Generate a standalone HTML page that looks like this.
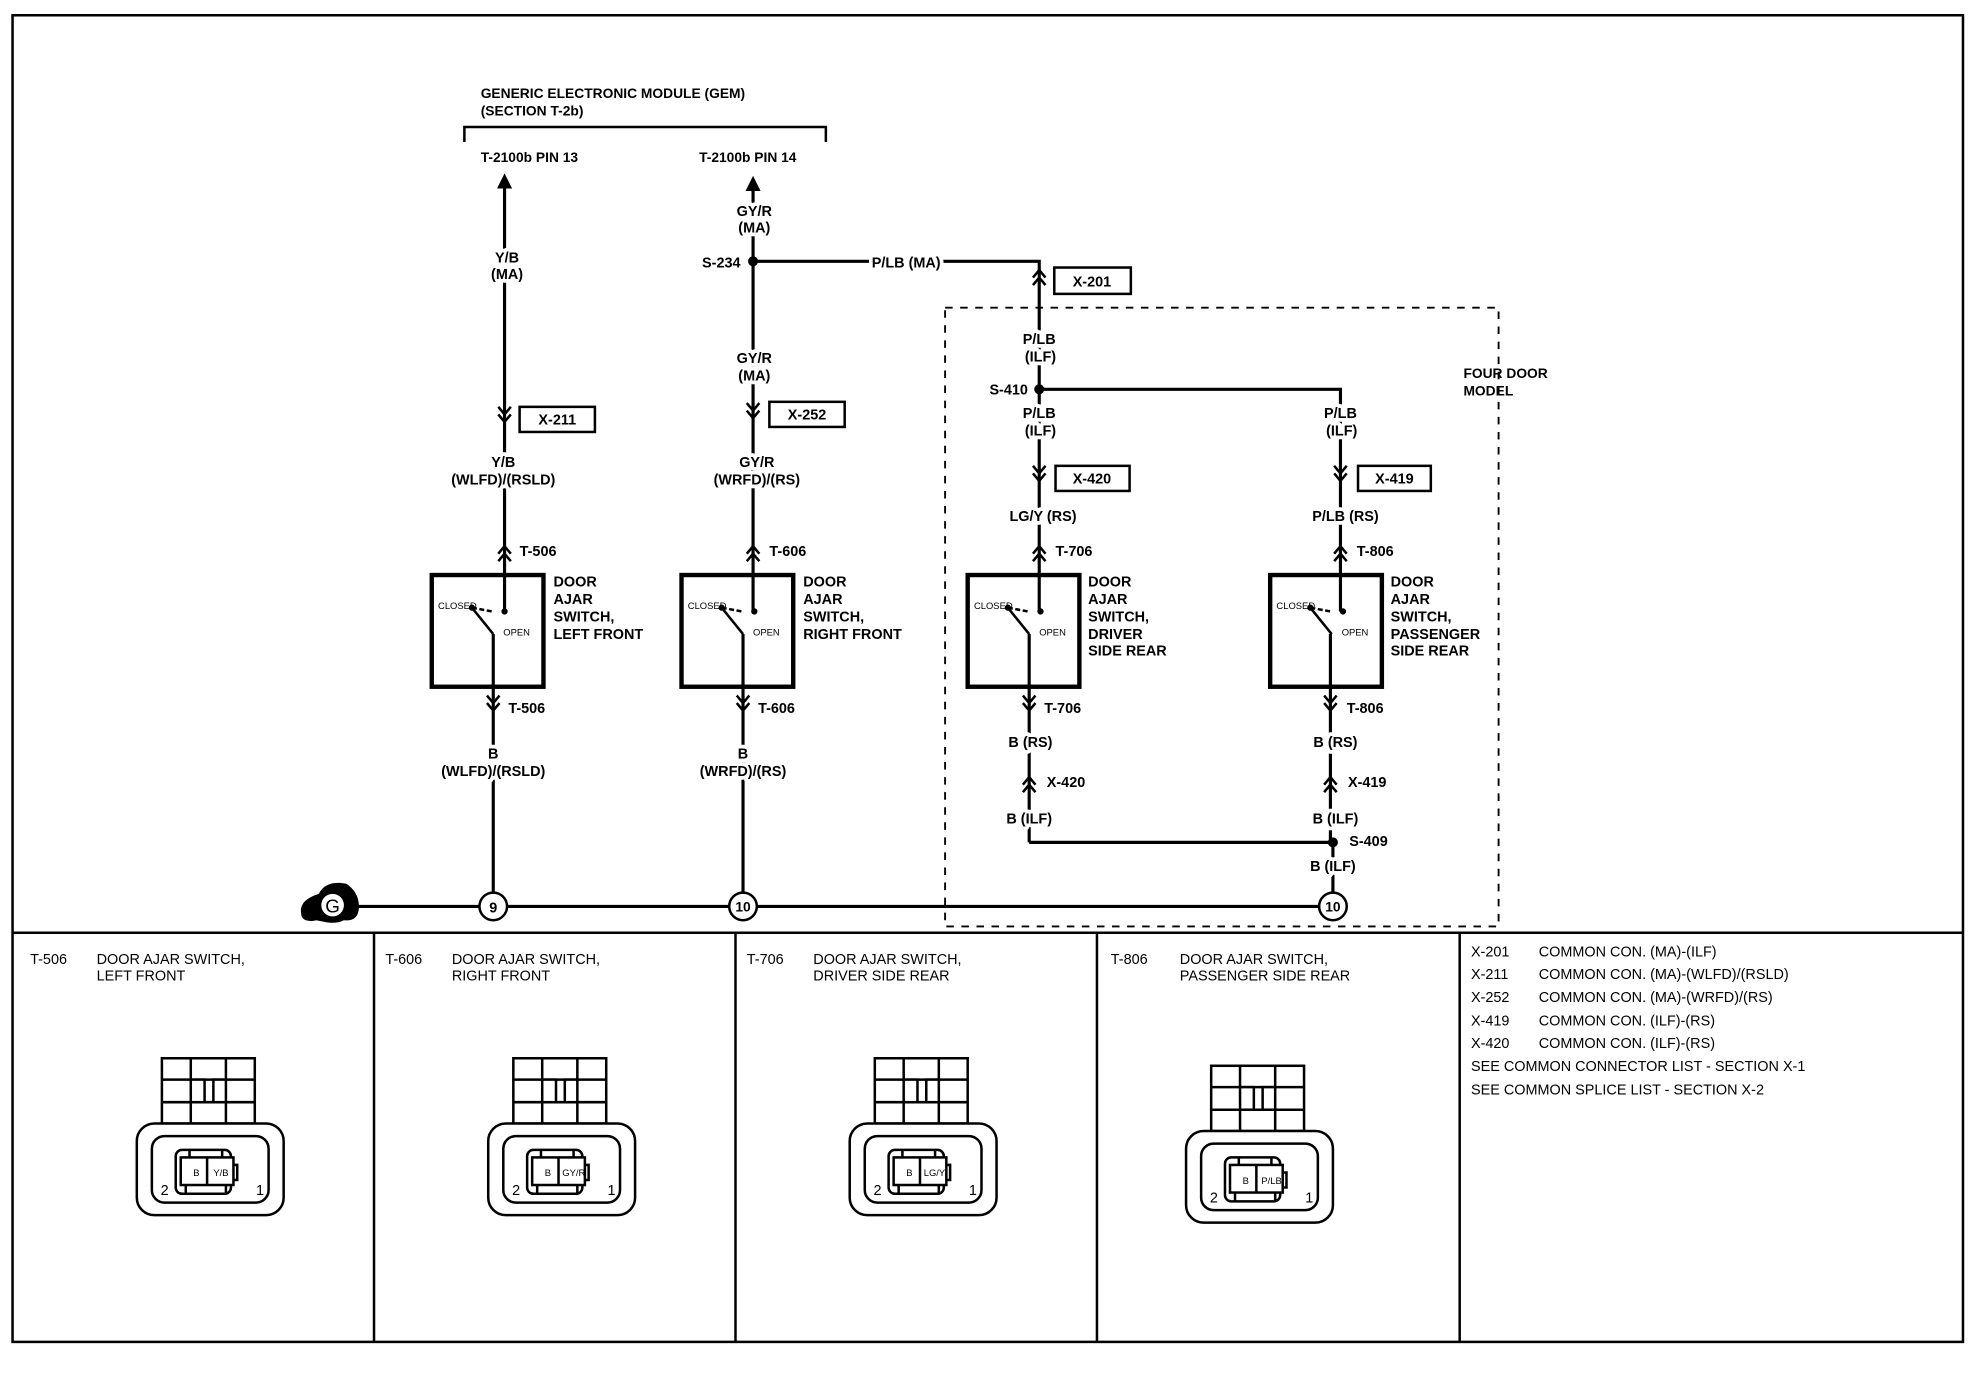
<!DOCTYPE html>
<html><head><meta charset="utf-8"><style>
html,body{margin:0;padding:0;background:#fff}
svg{display:block}
text{font-family:"Liberation Sans",Arial,sans-serif;font-weight:bold;fill:#000;font-size:11.5px}
.l{font-size:11.5px;paint-order:stroke;stroke:#fff;stroke-width:6px;stroke-linejoin:round}
.t{font-size:11.5px;font-weight:normal}
.s{font-size:7.5px;font-weight:normal}
.c{text-anchor:middle}
</style></head><body>
<svg width="1968" height="1376" viewBox="0 0 1568 1096" xmlns="http://www.w3.org/2000/svg">
<defs>
<g id="cu" fill="none" stroke="#000" stroke-width="2"><path d="M-5,3 L0,-3 L5,3 M-5,9 L0,3 L5,9"/></g>
<g id="cd" fill="none" stroke="#000" stroke-width="2"><path d="M-5,-3 L0,3 L5,-3 M-5,-9 L0,-3 L5,-9"/></g>
<g id="sw">
<rect x="0" y="0" width="89" height="89" fill="none" stroke="#000" stroke-width="3.5"/>
<text x="5" y="27" class="s" style="font-size:7.5px">CLOSED</text>
<text x="57" y="48" class="s" style="font-size:7.5px">OPEN</text>
<path d="M32,26 L48,29" stroke="#000" stroke-width="2" stroke-dasharray="4,2"/>
<circle cx="32" cy="26" r="2.5"/>
<circle cx="58" cy="29" r="2.5"/>
<path d="M32,26 L49,47" stroke="#000" stroke-width="2"/>
</g>
<g id="cn" fill="none" stroke="#000" stroke-width="2">
<rect x="-37" y="0" width="74" height="52"/>
<path d="M-37,17 H37 M-37,35 H37 M-14,0 V17 M14,0 V17 M-14,35 V52 M14,35 V52"/>
<rect x="-14" y="17" width="11" height="18" fill="#fff"/>
<rect x="4" y="17" width="10" height="18" fill="#fff"/>
<rect x="-57" y="52" width="117" height="73" rx="14" fill="#fff"/>
<rect x="-45" y="62" width="93" height="53" rx="10"/>
<rect x="-26" y="73" width="44" height="35" rx="5"/>
<path d="M18,85 H23 V97 H18"/>
<rect x="-22" y="79" width="42" height="22" fill="#fff"/>
<path d="M-1,79 V101 M-15,73 V79 M11,73 V79 M-18,101 V108 M14,101 V108"/>
</g>
</defs>
<rect width="1568" height="1096" fill="#fff"/>
<rect x="10" y="12" width="1554" height="1057" fill="none" stroke="#000" stroke-width="2"/>
<line x1="10" y1="743" x2="1564" y2="743" stroke="#000" stroke-width="2"/>
<g stroke="#000" stroke-width="2"><line x1="298" y1="743" x2="298" y2="1069"/><line x1="586" y1="743" x2="586" y2="1069"/><line x1="874" y1="743" x2="874" y2="1069"/><line x1="1163" y1="743" x2="1163" y2="1069"/></g>

<text x="383" y="78" style="font-size:11px">GENERIC ELECTRONIC MODULE (GEM)</text>
<text x="383" y="92" style="font-size:11px">(SECTION T-2b)</text>
<path d="M370,113 V101 H658 V113" fill="none" stroke="#000" stroke-width="2"/>
<text x="383" y="129" style="font-size:11px">T-2100b PIN 13</text>
<text x="557" y="129" style="font-size:11px">T-2100b PIN 14</text>

<rect x="753" y="245" width="441" height="493" fill="none" stroke="#000" stroke-width="1.5" stroke-dasharray="6,6"/>
<text x="1166" y="301" style="font-size:11px">FOUR DOOR</text>
<text x="1166" y="315" style="font-size:11px">MODEL</text>

<g stroke="#000" stroke-width="2.5" fill="none">
<line x1="402" y1="146" x2="402" y2="487"/>
<line x1="393" y1="505" x2="393" y2="722"/>
<line x1="600" y1="146" x2="600" y2="487"/>
<line x1="592" y1="505" x2="592" y2="722"/>
<path d="M600,208 H828 V487"/>
<path d="M828,310 H1068 V487"/>
<line x1="820" y1="505" x2="820" y2="671"/>
<line x1="1060" y1="505" x2="1060" y2="671"/>
<path d="M820,671 H1062 V722"/>
<line x1="280" y1="722" x2="1062" y2="722"/>
</g>
<path d="M396,150 L402,138 L408,150 Z"/>
<path d="M594,152 L600,140 L606,152 Z"/>
<circle cx="600" cy="208" r="4"/>
<circle cx="828" cy="310" r="4"/>
<circle cx="1062" cy="671" r="4"/>

<text x="404" y="209" class="l c">Y/B</text>
<text x="404" y="222" class="l c">(MA)</text>
<use href="#cd" x="402" y="333"/>
<rect x="414" y="324" width="60" height="20" fill="#fff" stroke="#000" stroke-width="2"/>
<text x="444" y="338" class="c">X-211</text>
<text x="401" y="372" class="l c">Y/B</text>
<text x="401" y="386" class="l c">(WLFD)/(RSLD)</text>
<use href="#cu" x="402" y="438"/>
<text x="414" y="443">T-506</text>
<g transform="translate(344,458)"><use href="#sw"/></g>
<text x="441" y="467">DOOR</text><text x="441" y="481">AJAR</text><text x="441" y="495">SWITCH,</text><text x="441" y="509">LEFT FRONT</text>
<use href="#cd" x="393" y="563"/>
<text x="405" y="568">T-506</text>
<text x="393" y="604" class="l c">B</text>
<text x="393" y="618" class="l c">(WLFD)/(RSLD)</text>

<text x="601" y="172" class="l c">GY/R</text>
<text x="601" y="185" class="l c">(MA)</text>
<text x="590" y="213" style="text-anchor:end">S-234</text>
<text x="722" y="213" class="l c">P/LB  (MA)</text>
<text x="601" y="289" class="l c">GY/R</text>
<text x="601" y="303" class="l c">(MA)</text>
<use href="#cd" x="600" y="330"/>
<rect x="613" y="320" width="60" height="20" fill="#fff" stroke="#000" stroke-width="2"/>
<text x="643" y="334" class="c">X-252</text>
<text x="603" y="372" class="l c">GY/R</text>
<text x="603" y="386" class="l c">(WRFD)/(RS)</text>
<use href="#cu" x="600" y="438"/>
<text x="613" y="443">T-606</text>
<g transform="translate(543,458)"><use href="#sw"/></g>
<text x="640" y="467">DOOR</text><text x="640" y="481">AJAR</text><text x="640" y="495">SWITCH,</text><text x="640" y="509">RIGHT FRONT</text>
<use href="#cd" x="592" y="563"/>
<text x="604" y="568">T-606</text>
<text x="592" y="604" class="l c">B</text>
<text x="592" y="618" class="l c">(WRFD)/(RS)</text>

<use href="#cu" x="828" y="218"/>
<rect x="840" y="213" width="61" height="21" fill="#fff" stroke="#000" stroke-width="2"/>
<text x="870" y="228" class="c">X-201</text>
<text x="828" y="274" class="l c">P/LB</text>
<text x="829" y="288" class="l c">(ILF)</text>
<text x="819" y="314" style="text-anchor:end">S-410</text>
<text x="828" y="333" class="l c">P/LB</text>
<text x="829" y="347" class="l c">(ILF)</text>
<use href="#cd" x="828" y="380"/>
<rect x="841" y="371" width="59" height="20" fill="#fff" stroke="#000" stroke-width="2"/>
<text x="870" y="385" class="c">X-420</text>
<text x="831" y="415" class="l c">LG/Y (RS)</text>
<use href="#cu" x="828" y="438"/>
<text x="841" y="443">T-706</text>
<g transform="translate(771,458)"><use href="#sw"/></g>
<text x="867" y="467">DOOR</text><text x="867" y="481">AJAR</text><text x="867" y="495">SWITCH,</text><text x="867" y="509">DRIVER</text><text x="867" y="522">SIDE REAR</text>
<use href="#cd" x="820" y="563"/>
<text x="832" y="568">T-706</text>
<text x="821" y="595" class="l c">B (RS)</text>
<use href="#cu" x="820" y="622"/>
<text x="834" y="627">X-420</text>
<text x="820" y="656" class="l c">B (ILF)</text>

<text x="1068" y="333" class="l c">P/LB</text>
<text x="1069" y="347" class="l c">(ILF)</text>
<use href="#cd" x="1068" y="380"/>
<rect x="1082" y="371" width="58" height="20" fill="#fff" stroke="#000" stroke-width="2"/>
<text x="1111" y="385" class="c">X-419</text>
<text x="1072" y="415" class="l c">P/LB (RS)</text>
<use href="#cu" x="1068" y="438"/>
<text x="1081" y="443">T-806</text>
<g transform="translate(1012,458)"><use href="#sw"/></g>
<text x="1108" y="467">DOOR</text><text x="1108" y="481">AJAR</text><text x="1108" y="495">SWITCH,</text><text x="1108" y="509">PASSENGER</text><text x="1108" y="522">SIDE REAR</text>
<use href="#cd" x="1060" y="563"/>
<text x="1073" y="568">T-806</text>
<text x="1064" y="595" class="l c">B (RS)</text>
<use href="#cu" x="1060" y="622"/>
<text x="1074" y="627">X-419</text>
<text x="1064" y="656" class="l c">B (ILF)</text>
<text x="1075" y="674">S-409</text>
<text x="1062" y="694" class="l c">B (ILF)</text>

<path d="M240,728 C238,718 248,714 254,712 C258,704 266,702 276,704 C282,708 286,714 286,722 C286,730 282,734 274,733 C266,737 258,734 252,733 C244,735 240,732 240,728 Z"/>
<circle cx="265" cy="721" r="9" fill="#fff"/>
<text x="265" y="727" class="c" style="font-size:15px;font-weight:normal">G</text>
<g fill="#fff" stroke="#000" stroke-width="2"><circle cx="393" cy="722" r="11"/><circle cx="592" cy="722" r="11"/><circle cx="1062" cy="722" r="11"/></g>
<text x="393" y="727" class="c">9</text>
<text x="592" y="726" class="c" style="font-size:11px">10</text>
<text x="1062" y="726" class="c" style="font-size:11px">10</text>

<text x="24" y="768" class="t">T-506</text><text x="77" y="768" class="t">DOOR AJAR SWITCH,</text><text x="77" y="781" class="t">LEFT FRONT</text>
<text x="307" y="768" class="t">T-606</text><text x="360" y="768" class="t">DOOR AJAR SWITCH,</text><text x="360" y="781" class="t">RIGHT FRONT</text>
<text x="595" y="768" class="t">T-706</text><text x="648" y="768" class="t">DOOR AJAR SWITCH,</text><text x="648" y="781" class="t">DRIVER SIDE REAR</text>
<text x="885" y="768" class="t">T-806</text><text x="940" y="768" class="t">DOOR AJAR SWITCH,</text><text x="940" y="781" class="t">PASSENGER SIDE REAR</text>
<text x="1172" y="762" class="t">X-201</text><text x="1226" y="762" class="t">COMMON CON. (MA)-(ILF)</text>
<text x="1172" y="780" class="t">X-211</text><text x="1226" y="780" class="t">COMMON CON. (MA)-(WLFD)/(RSLD)</text>
<text x="1172" y="798" class="t">X-252</text><text x="1226" y="798" class="t">COMMON CON. (MA)-(WRFD)/(RS)</text>
<text x="1172" y="817" class="t">X-419</text><text x="1226" y="817" class="t">COMMON CON. (ILF)-(RS)</text>
<text x="1172" y="835" class="t">X-420</text><text x="1226" y="835" class="t">COMMON CON. (ILF)-(RS)</text>
<text x="1172" y="853" class="t">SEE COMMON CONNECTOR LIST - SECTION X-1</text>
<text x="1172" y="872" class="t">SEE COMMON SPLICE LIST - SECTION X-2</text>

<g transform="translate(166,843)"><use href="#cn"/><text x="-12" y="94" class="s">B</text><text x="4" y="94" class="s">Y/B</text><text x="-38" y="109" class="t">2</text><text x="38" y="109" class="t">1</text></g>
<g transform="translate(446,843)"><use href="#cn"/><text x="-12" y="94" class="s">B</text><text x="2" y="94" class="s">GY/R</text><text x="-38" y="109" class="t">2</text><text x="38" y="109" class="t">1</text></g>
<g transform="translate(734,843)"><use href="#cn"/><text x="-12" y="94" class="s">B</text><text x="2" y="94" class="s">LG/Y</text><text x="-38" y="109" class="t">2</text><text x="38" y="109" class="t">1</text></g>
<g transform="translate(1002,849)"><use href="#cn"/><text x="-12" y="94" class="s">B</text><text x="3" y="94" class="s">P/LB</text><text x="-38" y="109" class="t">2</text><text x="38" y="109" class="t">1</text></g>
</svg>
</body></html>
